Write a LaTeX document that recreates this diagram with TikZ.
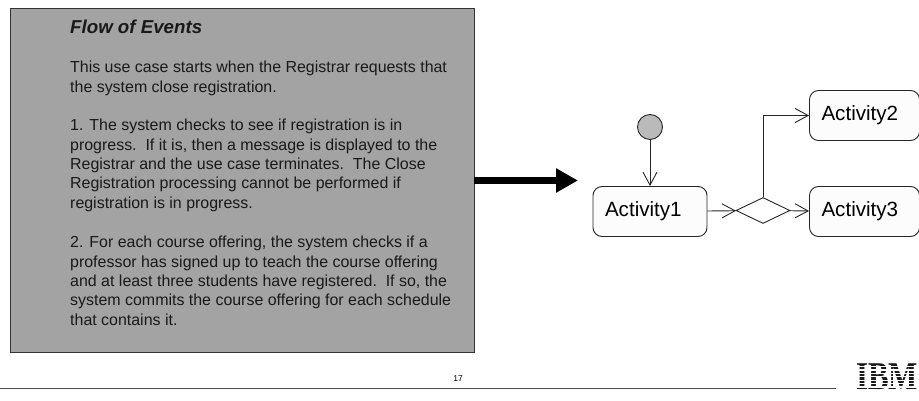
\documentclass[tikz,border=0pt]{standalone}
\usepackage{fontspec}
\setmainfont{Liberation Sans}
\newfontfamily\logofont{Liberation Serif}
\usetikzlibrary{arrows.meta,positioning,shapes.geometric}
\tikzset{
  flowtext/.style={anchor=north west,align=left,inner sep=0pt,font=\fontsize{15.95}{19.4}\selectfont,text=black!90},
  activitybox/.style={draw=black!85,fill=black!1,rounded corners=9pt,minimum height=50pt,inner ysep=0pt,inner xsep=12pt,align=left,line width=0.9pt,font=\fontsize{20.6}{24}\selectfont},
  linedecorate/.style={-{Straight Barb[length=13pt,width=14pt]},draw=black!85,line width=0.9pt}
}
\begin{document}
\begin{tikzpicture}[x=1pt,y=-1pt]
\useasboundingbox (0,0) rectangle (919,401);
%% text panel
\node (panel) at (242,180) [draw=black!80,fill=black!36,minimum width=464pt,minimum height=344pt,inner sep=0pt,line width=0.8pt] {};
\node (title) at (70,19.5) [flowtext,font=\fontsize{18.7}{22}\bfseries\itshape\selectfont] {Flow of Events};
\node (intro) at (70,61) [flowtext] {This use case starts when the Registrar requests that\\the system close registration.};
\node (stepone) at (70,119) [flowtext] {1. The system checks to see if registration is in\\progress.\ \ If it is, then a message is displayed to the\\Registrar and the use case terminates.\ \ The Close\\Registration processing cannot be performed if\\registration is in progress.};
\node (steptwo) at (70,236) [flowtext] {2. For each course offering, the system checks if a\\professor has signed up to teach the course offering\\and at least three students have registered.\ \ If so, the\\system commits the course offering for each schedule\\that contains it.};
%% activity nodes
\node (start) at (650,127) [draw=black!85,fill=black!27,circle,minimum size=25pt,inner sep=0pt,line width=0.9pt] {};
\node (act1) at (650,211.5) [activitybox,text width=90pt] {Activity1};
\node (act2) at (864.5,115.5) [activitybox,text width=86pt] {Activity2};
\node (act3) at (864.5,211.5) [activitybox,text width=86pt] {Activity3};
\node (decide) at (763,210.5) [draw=black!85,fill=white,diamond,aspect=2.08,minimum width=54pt,minimum height=26pt,inner sep=0pt,line width=0.9pt] {};
%% big arrow
\coordinate (arrowtip) at (578,180.5);
\draw[-{Triangle[length=22pt,width=23pt]},line width=7pt] (panel.east |- arrowtip) -- (arrowtip);
%% connectors
\path
\foreach \startnode/\endnode in {start/act1, act1/decide, decide/act3} {
  (\startnode) edge[linedecorate] (\endnode)
};
\draw[linedecorate] (decide.north) |- (act2.west);
%% footer
\coordinate (ruleleft) at (0,388.5);
\coordinate (ruleright) at (836,388.5);
\draw[black!70,line width=0.9pt] (ruleleft) -- (ruleright);
\node (pagenum) at (458,379) [font=\fontsize{8.5}{10}\selectfont,inner sep=0pt] {17};
\node (logo) at (887,377) [font=\logofont\fontsize{31}{31}\bfseries\selectfont,inner sep=0pt,text=black!90,transform shape,yscale=1.27] {IBM};
\foreach \y in {366,369.4,372.8,376.2,379.6,383,386.4} {
  \fill[white] (855,\y) rectangle (919,\y+1.2);
}
\end{tikzpicture}
\end{document}
